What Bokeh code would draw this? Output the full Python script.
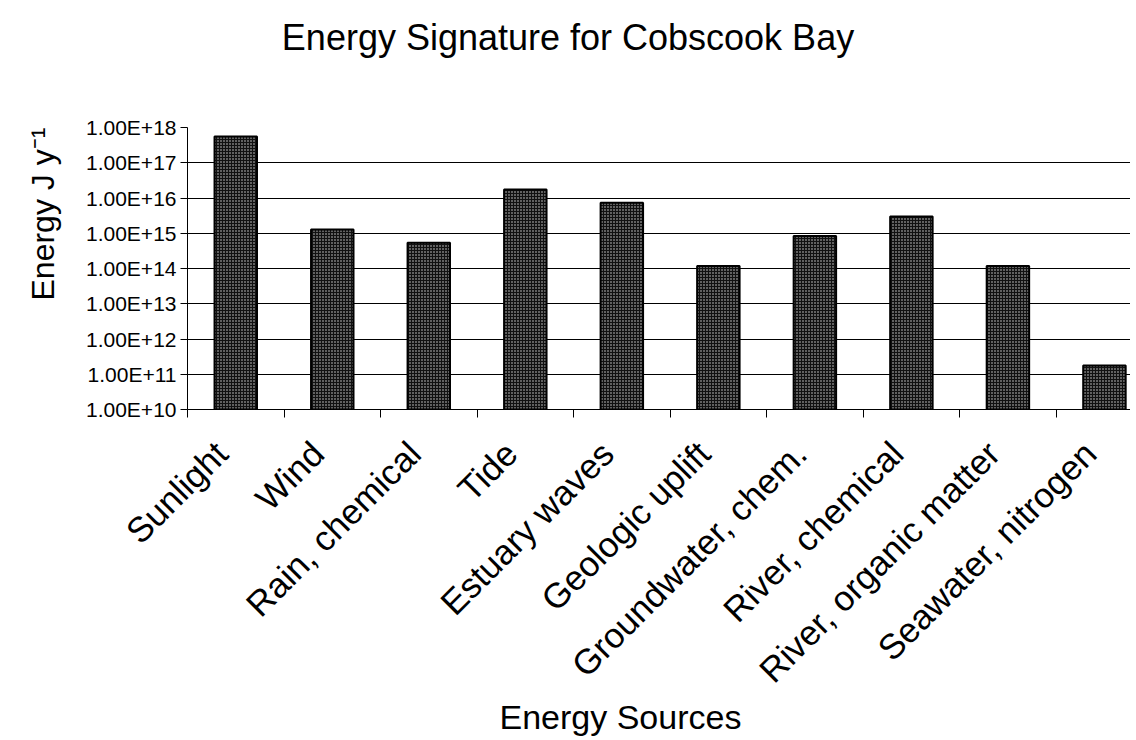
import math
from bokeh.plotting import figure
from bokeh.layouts import column
from bokeh.models import Range1d, FixedTicker, CustomJSTickFormatter, ColumnDataSource, Title, Div
from bokeh.embed import file_html
from bokeh.resources import INLINE

categories = ["Sunlight", "Wind", "Rain, chemical", "Tide", "Estuary waves",
              "Geologic uplift", "Groundwater, chem.", "River, chemical",
              "River, organic matter", "Seawater, nitrogen"]
energy = [5.6e17, 1.28e15, 5.4e14, 1.74e16, 7.3e15,
          1.17e14, 8.3e14, 3.0e15, 1.17e14, 1.77e11]
y_ticks = [1e10, 1e11, 1e12, 1e13, 1e14, 1e15, 1e16, 1e17, 1e18]

FONT = "Liberation Sans"

xpos = [i + 0.5 for i in range(len(categories))]
label_pos = [x - 0.15 for x in xpos]   # labels sit slightly left of the bar centres, as in the original
src = ColumnDataSource(dict(x=xpos, top=energy, bottom=[y_ticks[0]] * len(energy), name=categories))

title_div = Div(
    text=('<div style="width:1128px;height:76px;line-height:76px;text-align:center;'
          'padding-left:8px;box-sizing:border-box;font-family:\'Liberation Sans\',Arial,sans-serif;'
          'font-size:36px;color:black;white-space:nowrap;">Energy Signature for Cobscook Bay</div>'),
    width=1128, height=76, margin=0)

p = figure(frame_width=943, frame_height=282, y_axis_type="log",
           x_range=Range1d(0, 9.77), y_range=Range1d(y_ticks[0], y_ticks[-1]),
           output_backend="svg", toolbar_location=None,
           min_border_left=185, min_border_right=0, min_border_top=51, min_border_bottom=330)
p.outline_line_color = None
p.background_fill_color = "white"
p.border_fill_color = "white"

p.vbar(x="x", top="top", bottom="bottom", width=0.44, source=src,
       fill_color="#111111", line_color="black", line_width=2,
       hatch_pattern="dot", hatch_color="#d8d8d8", hatch_scale=3, hatch_weight=1)

# x axis
xa = p.xaxis[0]
xa.ticker = FixedTicker(ticks=label_pos, minor_ticks=list(range(len(categories) + 1)))
xa.major_label_overrides = {x: c for x, c in zip(label_pos, categories)}
xa.major_tick_out = 0
xa.major_tick_in = 0
xa.minor_tick_out = 8
xa.minor_tick_in = 0
xa.minor_tick_line_color = "black"
xa.axis_line_color = "black"
xa.major_label_orientation = math.pi / 4
xa.major_label_text_font = FONT
xa.major_label_text_font_size = "35px"
xa.major_label_text_color = "black"
xa.major_label_standoff = 30

# y axis
ya = p.yaxis[0]
ya.ticker = FixedTicker(ticks=y_ticks, minor_ticks=[])
ya.formatter = CustomJSTickFormatter(code='return "1.00E+" + Math.round(Math.log10(tick));')
ya.major_tick_out = 7
ya.major_tick_in = 0
ya.minor_tick_line_color = None
ya.axis_line_color = "black"
ya.major_label_text_font = FONT
ya.major_label_text_font_size = "21px"
ya.major_label_text_color = "black"
ya.major_label_standoff = 4

p.xgrid.grid_line_color = None
p.ygrid.grid_line_color = "black"
p.ygrid.grid_line_width = 1

# axis titles
p.add_layout(Title(text="Energy J y\u207b\u00b9", text_font=FONT,
                   text_font_size="32px", text_font_style="normal", text_color="black",
                   align="left", offset=109, standoff=44), "left")
p.add_layout(Title(text="Energy Sources", text_font=FONT,
                   text_font_size="34px", text_font_style="normal", text_color="black",
                   align="left", offset=312, standoff=-22), "below")

layout = column(title_div, p, spacing=0)
open("out.html", "w").write(file_html(layout, INLINE))
